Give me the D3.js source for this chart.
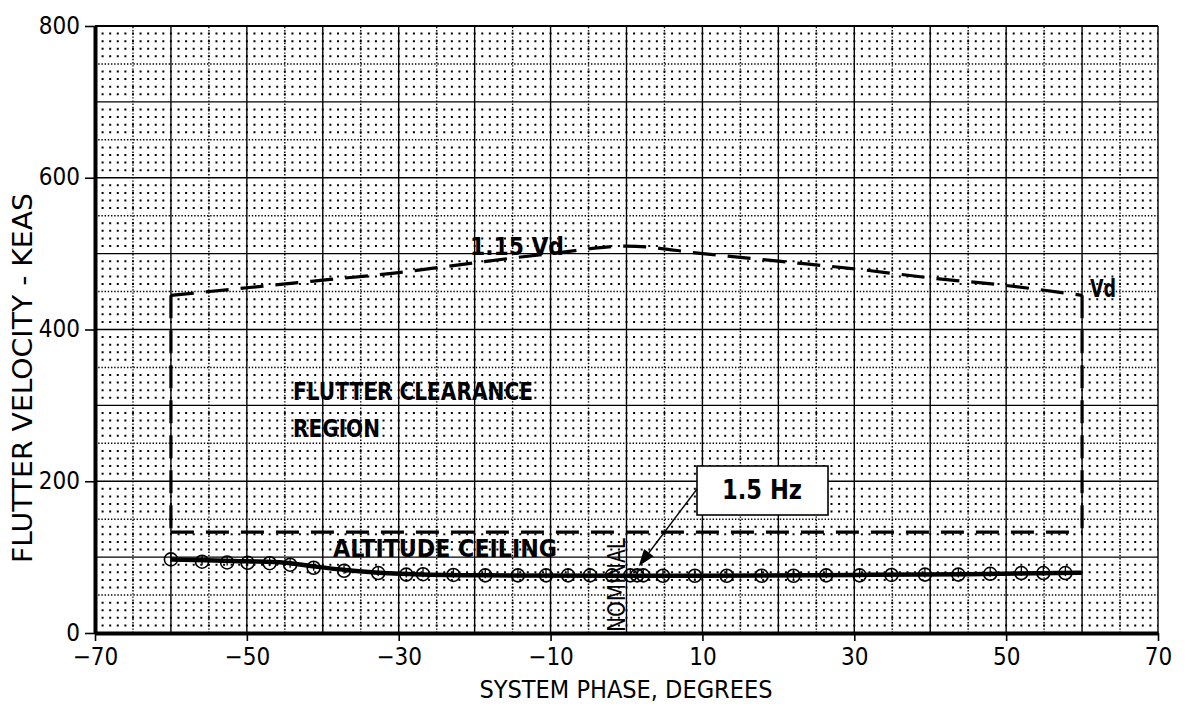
<!DOCTYPE html>
<html>
<head>
<meta charset="utf-8">
<script src="https://cdn.jsdelivr.net/npm/d3@7"></script>
<style>
  html, body { margin: 0; padding: 0; background: #fff; }
  svg { display: block; }
</style>
</head>
<body>
<svg id="chart" width="1192" height="713"></svg>
<script>
// ---------------- DATA ----------------
const xTicks = [-70, -50, -30, -10, 10, 30, 50, 70];
const yTicks = [0, 200, 400, 600, 800];

// measured flutter points (system phase deg, flutter velocity KEAS)
const pointPhase = [-60, -55.9, -52.6, -49.9, -47, -44.3, -41.2, -37.2, -32.7, -29, -26.8, -22.8,
  -18.6, -14.3, -10.6, -7.7, -4.8, -1.9, 0.5, 1.4, 2.2, 4.8, 9, 13.2, 17.8, 22, 26.3,
  30.7, 34.9, 39.3, 43.7, 47.9, 52, 54.9, 57.8];
const pointVel = [97, 94, 93, 92.5, 92, 90, 86, 82, 79, 77, 77.5, 76.5,
  76, 76, 76, 76, 76, 76, 76, 76, 76, 75.5, 75.5, 75.5, 75.5, 75.5, 76,
  76, 76.5, 77, 77, 78, 79, 79, 79];

// faired curve through the points
const curvePhase = [-60, -50, -45, -41, -37, -32, -28, -19, 0, 10, 30, 45, 60];
const curveVel   = [97, 94.5, 92.5, 87.5, 83, 79, 77.5, 76, 75.5, 75.5, 76.5, 77.5, 79.5];

// clearance boundary (1.15 Vd curve)
const boundPhase = [-60, -50, -40, -30, -20, -10, 0, 10, 20, 30, 40, 50, 60];
const boundVel   = [445, 455, 465, 475, 488, 500, 510, 500, 490, 480, 468, 458, 445];
const altitudeCeiling = 133;
const nominalPhase = 0;

// ---------------- SETUP ----------------
const svg = d3.select("#chart");
const x = d3.scaleLinear().domain([-70, 70]).range([95, 1158]);
const y = d3.scaleLinear().domain([0, 800]).range([633, 26]);
const NARROW = "'Liberation Sans Narrow', 'Arial Narrow', 'DejaVu Sans Condensed', sans-serif";

const grid = svg.append("g");

// dot grid: rows every 10 KEAS, dots every 1 deg
const unitPx = x(1) - x(0);
const dotW = 2;
d3.range(10, 800, 10).filter(v => v % 50 !== 0).forEach(v => {
  grid.append("line")
    .attr("x1", x(-70) - dotW / 2).attr("x2", x(70))
    .attr("y1", y(v)).attr("y2", y(v))
    .attr("stroke", "#000").attr("stroke-width", dotW)
    .attr("stroke-dasharray", `${dotW},${unitPx - dotW}`);
});
// dotted lines at 5 deg / 50 KEAS
d3.range(-65, 70, 10).forEach(v => {
  grid.append("line")
    .attr("x1", x(v)).attr("x2", x(v)).attr("y1", y(0)).attr("y2", y(800))
    .attr("stroke", "#000").attr("stroke-width", 1.4).attr("stroke-dasharray", "1.4,1.8");
});
d3.range(50, 800, 100).forEach(v => {
  grid.append("line")
    .attr("x1", x(-70)).attr("x2", x(70)).attr("y1", y(v)).attr("y2", y(v))
    .attr("stroke", "#000").attr("stroke-width", 1.4).attr("stroke-dasharray", "1.4,1.8");
});
// solid lines at 10 deg / 100 KEAS
d3.range(-60, 71, 10).forEach(v => {
  grid.append("line")
    .attr("x1", x(v)).attr("x2", x(v)).attr("y1", y(0)).attr("y2", y(800))
    .attr("stroke", "#000").attr("stroke-width", 1.4);
});
d3.range(100, 801, 100).forEach(v => {
  grid.append("line")
    .attr("x1", x(-70)).attr("x2", x(70)).attr("y1", y(v)).attr("y2", y(v))
    .attr("stroke", "#000").attr("stroke-width", v === 800 ? 2 : 1.4);
});

// ---------------- CLEARANCE BOUNDARY ----------------
const dashG = svg.append("g").attr("fill", "none").attr("stroke", "#000")
  .attr("stroke-width", 3.2).attr("stroke-dasharray", "23,12");
const boundLine = d3.line().x(d => x(d[0])).y(d => y(d[1])).curve(d3.curveMonotoneX);
dashG.append("path").attr("d", boundLine(boundPhase.map((p, i) => [p, boundVel[i]])));
dashG.append("line")
  .attr("x1", x(-60)).attr("x2", x(-60))
  .attr("y1", y(boundVel[0])).attr("y2", y(altitudeCeiling));
dashG.append("line")
  .attr("x1", x(60)).attr("x2", x(60))
  .attr("y1", y(boundVel[boundVel.length - 1])).attr("y2", y(altitudeCeiling));
dashG.append("line")
  .attr("x1", x(-60)).attr("x2", x(60))
  .attr("y1", y(altitudeCeiling)).attr("y2", y(altitudeCeiling));

// ---------------- DATA CURVE ----------------
const curveLine = d3.line().x(d => x(d[0])).y(d => y(d[1])).curve(d3.curveMonotoneX);
svg.append("path")
  .attr("d", curveLine(curvePhase.map((p, i) => [p, curveVel[i]])))
  .attr("fill", "none").attr("stroke", "#000").attr("stroke-width", 4.5);

const pts = svg.append("g");
pointPhase.forEach((p, i) => {
  const cx = x(p), cy = y(pointVel[i]);
  pts.append("circle").attr("cx", cx).attr("cy", cy).attr("r", 6.5)
    .attr("fill", "none").attr("stroke", "#000").attr("stroke-width", 1.6);
  pts.append("line").attr("x1", cx).attr("x2", cx).attr("y1", cy - 6.5).attr("y2", cy + 3)
    .attr("stroke", "#000").attr("stroke-width", 1.3);
});

// ---------------- ANNOTATIONS ----------------
function label(txt, px, py, len, size) {
  return svg.append("text").attr("x", px).attr("y", py)
    .attr("font-family", NARROW).attr("font-weight", "bold")
    .attr("font-size", size || 24)
    .attr("textLength", len).attr("lengthAdjust", "spacingAndGlyphs")
    .attr("fill", "#000").text(txt);
}
label("FLUTTER CLEARANCE", 293, 400, 240);
label("REGION", 293, 437, 87);
label("ALTITUDE CEILING", 333, 557, 224);
label("1.15 Vd", 470, y(boundVel[4]) - 8, 94);
label("Vd", 1090, y(boundVel[boundVel.length - 1]) + 2, 26);

// NOMINAL vertical label
svg.append("text")
  .attr("transform", `translate(${x(nominalPhase) - 2},${y(0) - 1}) rotate(-90)`)
  .attr("font-family", NARROW).attr("font-size", 25)
  .attr("textLength", 94).attr("lengthAdjust", "spacingAndGlyphs")
  .text("NOMINAL");

// 1.5 Hz callout
svg.append("rect").attr("x", 697).attr("y", 466).attr("width", 131).attr("height", 49)
  .attr("fill", "#fff").attr("stroke", "#000").attr("stroke-width", 1.6);
svg.append("text").attr("x", 762).attr("y", 499).attr("text-anchor", "middle")
  .attr("font-family", NARROW).attr("font-weight", "bold").attr("font-size", 27)
  .attr("textLength", 80).attr("lengthAdjust", "spacingAndGlyphs")
  .text("1.5 Hz");
// arrow
const tip = [x(1.6), y(80) - 6];
const tail = [697, 489];
const ang = Math.atan2(tip[1] - tail[1], tip[0] - tail[0]);
const hl = 17, hw = 6;
svg.append("line").attr("x1", tail[0]).attr("y1", tail[1])
  .attr("x2", tip[0] - Math.cos(ang) * hl).attr("y2", tip[1] - Math.sin(ang) * hl)
  .attr("stroke", "#000").attr("stroke-width", 1.4);
const bx = tip[0] - Math.cos(ang) * hl, by = tip[1] - Math.sin(ang) * hl;
svg.append("path").attr("d",
  `M${tip[0]},${tip[1]} L${bx + Math.sin(ang) * hw},${by - Math.cos(ang) * hw} L${bx - Math.sin(ang) * hw},${by + Math.cos(ang) * hw} Z`)
  .attr("fill", "#000");

// ---------------- AXES ----------------
const fmt = d => d < 0 ? "\u2212" + Math.abs(d) : String(d);
const gx = svg.append("g").attr("transform", `translate(0,${y(0)})`)
  .call(d3.axisBottom(x).tickValues(xTicks).tickSize(8).tickSizeOuter(0).tickFormat(fmt));
gx.select(".domain").attr("stroke-width", 4);
gx.selectAll(".tick line").attr("stroke-width", 1.6);
gx.selectAll(".tick text").attr("font-family", NARROW).attr("font-size", 24)
  .attr("fill", "#000").attr("y", 13).attr("dy", "0.78em");

const gy = svg.append("g").attr("transform", `translate(${x(-70)},0)`)
  .call(d3.axisLeft(y).tickValues(yTicks).tickSize(10).tickSizeOuter(0));
gy.select(".domain").attr("stroke-width", 4);
gy.selectAll(".tick line").attr("stroke-width", 1.6);
gy.selectAll(".tick text").attr("font-family", NARROW).attr("font-size", 24)
  .attr("fill", "#000").attr("x", -15).attr("dy", "0.3em");

// axis titles
svg.append("text").attr("x", 626).attr("y", 698).attr("text-anchor", "middle")
  .attr("font-family", NARROW).attr("font-size", 25)
  .attr("textLength", 293).attr("lengthAdjust", "spacingAndGlyphs")
  .text("SYSTEM PHASE, DEGREES");
svg.append("text").attr("transform", "translate(32,378) rotate(-90)")
  .attr("text-anchor", "middle")
  .attr("font-family", NARROW).attr("font-size", 26)
  .attr("textLength", 370).attr("lengthAdjust", "spacingAndGlyphs")
  .text("FLUTTER VELOCITY - KEAS");
</script>
</body>
</html>
